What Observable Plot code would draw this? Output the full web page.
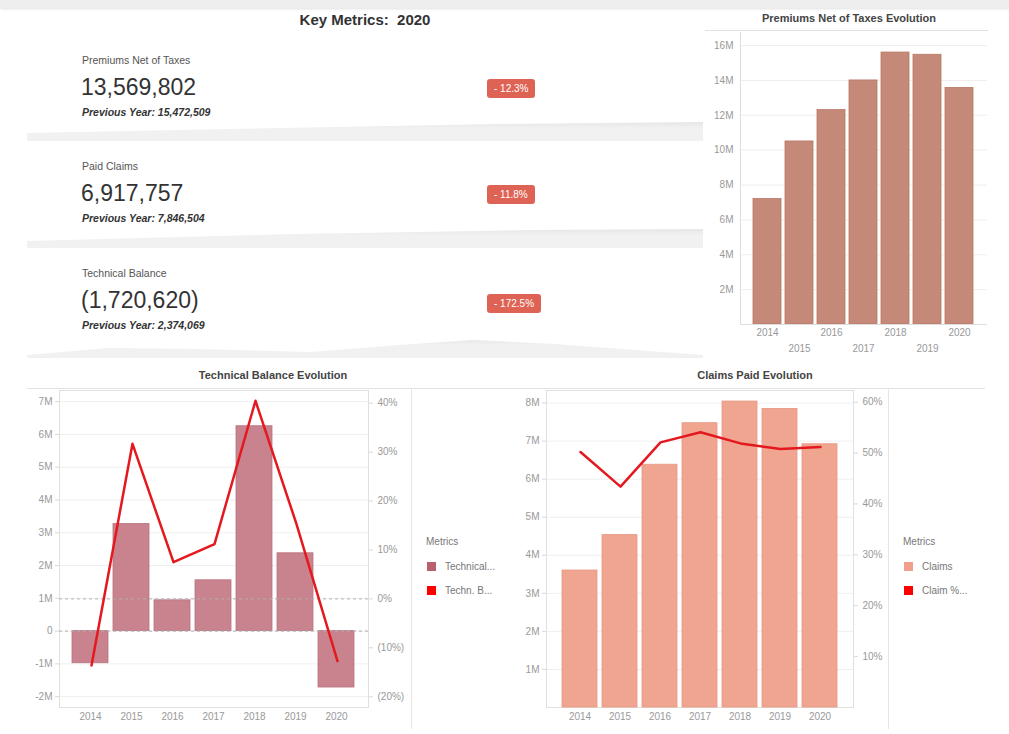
<!DOCTYPE html>
<html>
<head>
<meta charset="utf-8">
<script src="https://cdn.jsdelivr.net/npm/d3@7"></script>
<script src="https://cdn.jsdelivr.net/npm/@observablehq/plot@0.6"></script>
<style>
  html, body { margin: 0; padding: 0; }
  body { width: 1009px; height: 734px; position: relative; overflow: hidden; background: #fff;
         font-family: "Liberation Sans", Arial, sans-serif; }
  .abs { position: absolute; }
  .kpi-label { font-size: 10.5px; color: #555; white-space: nowrap; }
  .kpi-value { font-size: 23px; color: #333; white-space: nowrap; line-height: 23px; }
  .kpi-prev { font-size: 10.5px; color: #333; font-weight: bold; font-style: italic; white-space: nowrap; }
  .badge { background: #df6355; color: #fff; font-size: 10px; height: 19px; line-height: 19px;
           padding: 0 7px; border-radius: 3px; white-space: nowrap; }
  .ctitle { font-size: 11px; font-weight: bold; color: #444; white-space: nowrap; transform: translateX(-50%); }
  .legend-title { font-size: 10px; color: #777; }
  .legend-item { font-size: 10px; color: #777; white-space: nowrap; }
  .legend-item span { display: inline-block; width: 9px; height: 9px; vertical-align: -1px; margin-right: 9px; }
  .sep { background: linear-gradient(#e4e4e4, #f1f1f1 35%, #f1f1f1); }
</style>
</head>
<body>
<script>
// ---------------- data ----------------
const years = ["2014", "2015", "2016", "2017", "2018", "2019", "2020"];
const premiums = [7200000, 10500000, 12300000, 14000000, 15600000, 15472509, 13569802];
const claims = [3600000, 4530000, 6380000, 7470000, 8040000, 7846504, 6917757];
const techBalance = [-980000, 3270000, 940000, 1550000, 6250000, 2374069, -1720620];
const techBalancePct = [-0.136, 0.317, 0.075, 0.112, 0.405, 0.153, -0.127];
const claimPct = [0.502, 0.434, 0.521, 0.541, 0.519, 0.508, 0.512];

const premiumTicks = [2e6, 4e6, 6e6, 8e6, 10e6, 12e6, 14e6, 16e6];
const tbTicks = [-2e6, -1e6, 0, 1e6, 2e6, 3e6, 4e6, 5e6, 6e6, 7e6];
const tbPctTicks = [-0.2, -0.1, 0, 0.1, 0.2, 0.3, 0.4];
const claimTicks = [1e6, 2e6, 3e6, 4e6, 5e6, 6e6, 7e6, 8e6];
const claimPctTicks = [0.1, 0.2, 0.3, 0.4, 0.5, 0.6];

const kpiLabels = ["Premiums Net of Taxes", "Paid Claims", "Technical Balance"];
const kpiSeries = [premiums, claims, techBalance];
const reportYear = years[years.length - 1];

// ---------------- helpers ----------------
const FONT = '"Liberation Sans", Arial, sans-serif';
const fmtInt = d3.format(",");
const money = v => v < 0 ? `(${fmtInt(Math.abs(v))})` : fmtInt(v);
const fmtM = d => d === 0 ? "0" : `${d / 1e6}M`;
const fmtPct = d => {
  const p = Math.round(d * 100);
  return p < 0 ? `(${-p}%)` : `${p}%`;
};

function el(tag, cls, style, text) {
  const e = document.createElement(tag);
  if (cls) e.className = cls;
  Object.assign(e.style, style || {});
  if (text != null) e.textContent = text;
  document.body.appendChild(e);
  return e;
}

// ---------------- page decoration ----------------
el("div", "abs", {left: "0px", top: "0px", width: "1009px", height: "8px", background: "#eeeeee",
  boxShadow: "0 1px 3px rgba(0,0,0,0.12)"});

// separators between KPI blocks
el("div", "abs sep", {left: "27px", top: "121px", width: "676px", height: "20px",
  clipPath: "polygon(0% 60%, 30% 40%, 70% 15%, 100% 5%, 100% 100%, 0% 100%)"});
el("div", "abs sep", {left: "27px", top: "228px", width: "676px", height: "20px",
  clipPath: "polygon(0% 65%, 40% 30%, 75% 10%, 100% 5%, 100% 100%, 0% 100%)"});
el("div", "abs sep", {left: "27px", top: "338px", width: "676px", height: "20px",
  clipPath: "polygon(0% 85%, 12% 50%, 25% 55%, 42% 70%, 55% 35%, 66% 10%, 78% 30%, 100% 85%, 100% 100%, 0% 100%)"});

// title
el("div", "abs", {left: "365px", top: "11px", fontSize: "15px", fontWeight: "bold", color: "#333",
  transform: "translateX(-50%)", whiteSpace: "pre"}, `Key Metrics:  ${reportYear}`);

// KPI blocks
const kpiTops = [54, 160, 267];
const badgeTops = [79, 185, 294];
kpiLabels.forEach((label, i) => {
  const s = kpiSeries[i];
  const cur = s[s.length - 1], prev = s[s.length - 2];
  const change = (cur - prev) / Math.abs(prev) * 100;
  const t = kpiTops[i];
  el("div", "abs kpi-label", {left: "82px", top: `${t}px`}, label);
  el("div", "abs kpi-value", {left: "81px", top: `${t + 22}px`}, money(cur));
  el("div", "abs kpi-prev", {left: "82px", top: `${t + 52}px`}, `Previous Year: ${money(prev)}`);
  el("div", "abs badge", {left: "487px", top: `${badgeTops[i]}px`},
    `${change < 0 ? "- " : "+ "}${Math.abs(change).toFixed(1)}%`);
});

// chart titles and rules
el("div", "abs ctitle", {left: "849px", top: "12px"}, "Premiums Net of Taxes Evolution");
el("div", "abs", {left: "705px", top: "30px", width: "283px", height: "1px", background: "#e2e2e2"});
el("div", "abs ctitle", {left: "273px", top: "369px"}, "Technical Balance Evolution");
el("div", "abs ctitle", {left: "755px", top: "369px"}, "Claims Paid Evolution");
el("div", "abs", {left: "27px", top: "388px", width: "958px", height: "1px", background: "#e2e2e2"});
el("div", "abs", {left: "411px", top: "389px", width: "1px", height: "340px", background: "#e6e6e6"});
el("div", "abs", {left: "888px", top: "389px", width: "1px", height: "340px", background: "#e6e6e6"});

// ---------------- charts ----------------
function place(node, left, top) {
  node.style.position = "absolute";
  node.style.left = `${left}px`;
  node.style.top = `${top}px`;
  document.body.appendChild(node);
}

const baseStyle = {background: "transparent", color: "#999", fontSize: "10px", fontFamily: FONT, overflow: "visible"};

// Premiums chart
const premRows = years.map((year, i) => ({year, value: premiums[i]}));
const evenYears = years.filter((d, i) => i % 2 === 0);
const oddYears = years.filter((d, i) => i % 2 === 1);
const premChart = Plot.plot({
  width: 295, height: 328, marginLeft: 40, marginRight: 8, marginTop: 2, marginBottom: 34,
  style: baseStyle,
  x: {type: "band", domain: years, paddingInner: 0.115, paddingOuter: 0.33},
  y: {domain: [0, 16.75e6]},
  marks: [
    Plot.gridY(premiumTicks, {stroke: "#eeeeee", strokeOpacity: 1}),
    Plot.barY(premRows, {x: "year", y: "value", fill: "#c58979", stroke: "#b97766", strokeWidth: 0.8}),
    Plot.ruleY([0], {stroke: "#dddddd"}),
    Plot.frame({anchor: "left", stroke: "#dddddd"}),
    Plot.axisY(premiumTicks, {anchor: "left", tickFormat: fmtM, tickSize: 0, tickPadding: 7, fill: "#999", label: null}),
    Plot.axisX(evenYears, {anchor: "bottom", tickSize: 0, tickPadding: 4, fill: "#999", label: null}),
    Plot.axisX(oddYears, {anchor: "bottom", tickSize: 0, tickPadding: 20, fill: "#999", label: null})
  ]
});
place(premChart, 700, 30);

// dual-axis helper
function dualChart({left, top, width, marginLeft, marginRight, values, pcts, barFill, barStroke,
                    yDomain, yTicks, pDomain, pTicks, zeroLeft}) {
  const rows = years.map((year, i) => ({year, value: values[i], pct: pcts[i]}));
  const height = 342, marginTop = 2, marginBottom = 23;
  const bars = Plot.plot({
    width, height, marginLeft, marginRight, marginTop, marginBottom,
    style: baseStyle,
    x: {type: "band", domain: years, paddingInner: 0.12, paddingOuter: 0.32},
    y: {domain: yDomain},
    marks: [
      Plot.gridY(yTicks, {stroke: "#efefef", strokeOpacity: 1}),
      Plot.frame({stroke: "#e0e0e0"}),
      Plot.barY(rows, {x: "year", y: "value", fill: barFill, stroke: barStroke, strokeWidth: 0.8}),
      zeroLeft ? Plot.ruleY([0], {stroke: "#b0b0b0", strokeDasharray: "3,3"}) : null,
      Plot.axisY(yTicks, {anchor: "left", tickFormat: fmtM, tickSize: 4, tickPadding: 3, stroke: "#d8d8d8", fill: "#999", label: null}),
      Plot.axisX(years, {anchor: "bottom", tickSize: 0, tickPadding: 5, fill: "#999", label: null})
    ]
  });
  place(bars, left, top);
  const line = Plot.plot({
    width, height, marginLeft, marginRight, marginTop, marginBottom,
    style: baseStyle,
    x: {type: "point", domain: years, padding: 0.76, axis: null},
    y: {domain: pDomain},
    marks: [
      zeroLeft ? Plot.ruleY([0], {stroke: "#b0b0b0", strokeDasharray: "3,3"}) : null,
      Plot.lineY(rows, {x: "year", y: "pct", stroke: "#e3191f", strokeWidth: 2.5}),
      Plot.axisY(pTicks, {anchor: "right", tickFormat: fmtPct, tickSize: 4, tickPadding: 5, stroke: "#d8d8d8", fill: "#999", label: null})
    ]
  });
  place(line, left, top);
}

dualChart({left: 20, top: 388, width: 391, marginLeft: 39, marginRight: 43,
  values: techBalance, pcts: techBalancePct, barFill: "#c8838e", barStroke: "#b97380",
  yDomain: [-2.33e6, 7.34e6], yTicks: tbTicks, pDomain: [-0.222, 0.426], pTicks: tbPctTicks, zeroLeft: true});

dualChart({left: 505, top: 388, width: 383, marginLeft: 41, marginRight: 35,
  values: claims, pcts: claimPct, barFill: "#f0a591", barStroke: "#e6977f",
  yDomain: [0, 8.33e6], yTicks: claimTicks, pDomain: [0, 0.623], pTicks: claimPctTicks, zeroLeft: false});

// legends
function legend(left, items) {
  el("div", "abs legend-title", {left: `${left}px`, top: "536px"}, "Metrics");
  items.forEach(([color, text], i) => {
    const d = el("div", "abs legend-item", {left: `${left + 1}px`, top: `${561 + i * 24}px`});
    const sw = document.createElement("span");
    sw.style.background = color;
    d.appendChild(sw);
    d.appendChild(document.createTextNode(text));
  });
}
legend(426, [["#b9606f", "Technical..."], ["#ff0000", "Techn. B..."]]);
legend(903, [["#f0a08a", "Claims"], ["#ff0000", "Claim %..."]]);
</script>
</body>
</html>
